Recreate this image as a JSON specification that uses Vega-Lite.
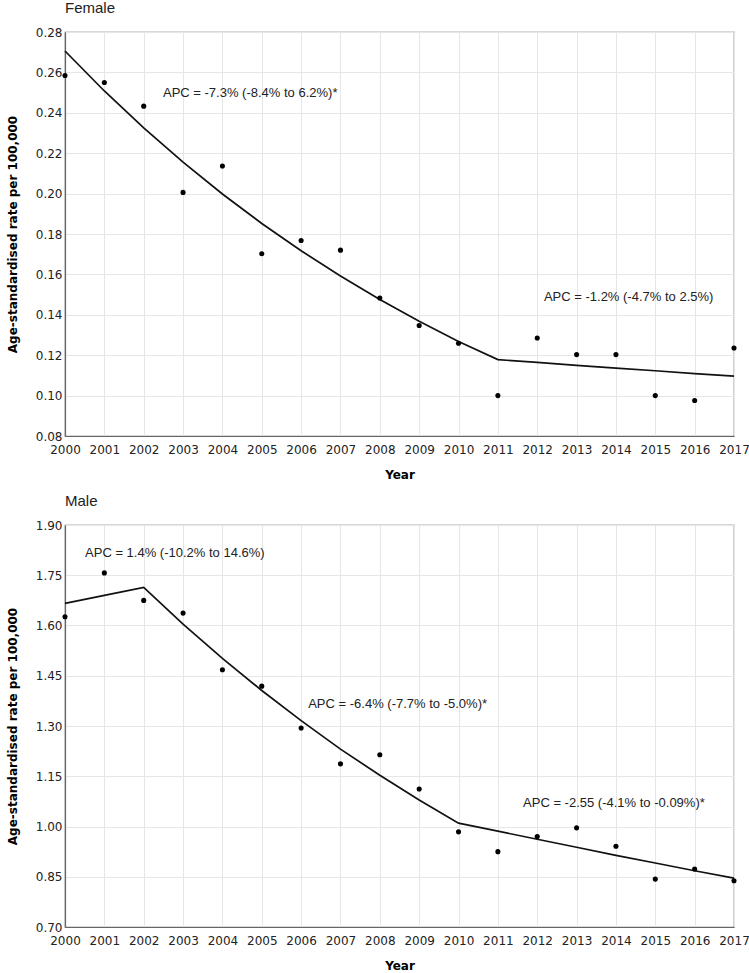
{
  "$schema": "https://vega.github.io/schema/vega-lite/v6.json",
  "padding": {"left": 5, "top": 0, "right": 5, "bottom": 0},
  "spacing": 12,
  "datasets": {
    "female_obs": [
      {"year": 2000, "rate": 0.2585}, {"year": 2001, "rate": 0.2550}, {"year": 2002, "rate": 0.2433},
      {"year": 2003, "rate": 0.2006}, {"year": 2004, "rate": 0.2137}, {"year": 2005, "rate": 0.1702},
      {"year": 2006, "rate": 0.1768}, {"year": 2007, "rate": 0.1720}, {"year": 2008, "rate": 0.1483},
      {"year": 2009, "rate": 0.1347}, {"year": 2010, "rate": 0.1259}, {"year": 2011, "rate": 0.1000},
      {"year": 2012, "rate": 0.1285}, {"year": 2013, "rate": 0.1203}, {"year": 2014, "rate": 0.1203},
      {"year": 2015, "rate": 0.1000}, {"year": 2016, "rate": 0.0976}, {"year": 2017, "rate": 0.1236}
    ],
    "female_fit": [
      {"year": 2000, "rate": 0.2706}, {"year": 2001, "rate": 0.2508}, {"year": 2002, "rate": 0.2325},
      {"year": 2003, "rate": 0.2156}, {"year": 2004, "rate": 0.1998}, {"year": 2005, "rate": 0.1852},
      {"year": 2006, "rate": 0.1717}, {"year": 2007, "rate": 0.1592}, {"year": 2008, "rate": 0.1476},
      {"year": 2009, "rate": 0.1368}, {"year": 2010, "rate": 0.1268}, {"year": 2011, "rate": 0.1178},
      {"year": 2012, "rate": 0.1164}, {"year": 2013, "rate": 0.1150}, {"year": 2014, "rate": 0.1136},
      {"year": 2015, "rate": 0.1123}, {"year": 2016, "rate": 0.1109}, {"year": 2017, "rate": 0.1096}
    ],
    "female_notes": [
      {"year": 2002.49, "rate": 0.2499, "label": "APC = -7.3% (-8.4% to 6.2%)*"},
      {"year": 2012.17, "rate": 0.1490, "label": "APC = -1.2% (-4.7% to 2.5%)"}
    ],
    "male_obs": [
      {"year": 2000, "rate": 1.626}, {"year": 2001, "rate": 1.757}, {"year": 2002, "rate": 1.675},
      {"year": 2003, "rate": 1.637}, {"year": 2004, "rate": 1.468}, {"year": 2005, "rate": 1.419},
      {"year": 2006, "rate": 1.294}, {"year": 2007, "rate": 1.187}, {"year": 2008, "rate": 1.214},
      {"year": 2009, "rate": 1.112}, {"year": 2010, "rate": 0.984}, {"year": 2011, "rate": 0.925},
      {"year": 2012, "rate": 0.970}, {"year": 2013, "rate": 0.996}, {"year": 2014, "rate": 0.941},
      {"year": 2015, "rate": 0.843}, {"year": 2016, "rate": 0.873}, {"year": 2017, "rate": 0.838}
    ],
    "male_fit": [
      {"year": 2000, "rate": 1.666}, {"year": 2001, "rate": 1.690}, {"year": 2002, "rate": 1.714},
      {"year": 2003, "rate": 1.604}, {"year": 2004, "rate": 1.502}, {"year": 2005, "rate": 1.406},
      {"year": 2006, "rate": 1.316}, {"year": 2007, "rate": 1.231}, {"year": 2008, "rate": 1.153},
      {"year": 2009, "rate": 1.079}, {"year": 2010, "rate": 1.010}, {"year": 2011, "rate": 0.986},
      {"year": 2012, "rate": 0.962}, {"year": 2013, "rate": 0.938}, {"year": 2014, "rate": 0.914},
      {"year": 2015, "rate": 0.891}, {"year": 2016, "rate": 0.868}, {"year": 2017, "rate": 0.846}
    ],
    "male_notes": [
      {"year": 2000.51, "rate": 1.816, "label": "APC = 1.4% (-10.2% to 14.6%)"},
      {"year": 2006.18, "rate": 1.367, "label": "APC = -6.4% (-7.7% to -5.0%)*"},
      {"year": 2011.64, "rate": 1.070, "label": "APC = -2.55 (-4.1% to -0.09%)*"}
    ]
  },
  "vconcat": [
    {
      "title": {"text": "Female"},
      "width": 669,
      "height": 404,
      "encoding": {
        "x": {"field": "year", "type": "quantitative", "scale": {"domain": [2000, 2017], "nice": false, "zero": false},
              "axis": {"title": "Year", "values": [2000,2001,2002,2003,2004,2005,2006,2007,2008,2009,2010,2011,2012,2013,2014,2015,2016,2017], "format": "d", "labelOverlap": false, "labelFlush": false, "labelSeparation": 0, "labelBound": false, "labelFont": "DejaVu Sans", "labelFontSize": 12}},
        "y": {"field": "rate", "type": "quantitative", "scale": {"domain": [0.08, 0.28], "nice": false, "zero": false},
              "axis": {"title": "Age-standardised rate per 100,000", "values": [0.08,0.10,0.12,0.14,0.16,0.18,0.20,0.22,0.24,0.26,0.28], "format": ".2f", "labelOverlap": false, "labelFlush": false, "labelFont": "DejaVu Sans", "labelFontSize": 12}}
      },
      "layer": [
        {
          "data": {"name": "female_fit"},
          "mark": {"type": "line", "color": "#111", "strokeWidth": 1.7}
        },
        {
          "data": {"name": "female_obs"},
          "mark": {"type": "circle", "color": "#000", "size": 26, "opacity": 1}
        },
        {
          "data": {"name": "female_notes"},
          "mark": {"type": "text", "align": "left", "baseline": "middle", "font": "Liberation Sans", "fontSize": 13, "color": "#222"},
          "encoding": {"text": {"field": "label"}}
        }
      ]
    },
    {
      "title": {"text": "Male"},
      "width": 669,
      "height": 402,
      "encoding": {
        "x": {"field": "year", "type": "quantitative", "scale": {"domain": [2000, 2017], "nice": false, "zero": false},
              "axis": {"title": "Year", "values": [2000,2001,2002,2003,2004,2005,2006,2007,2008,2009,2010,2011,2012,2013,2014,2015,2016,2017], "format": "d", "labelOverlap": false, "labelFlush": false, "labelSeparation": 0, "labelBound": false, "labelFont": "DejaVu Sans", "labelFontSize": 12}},
        "y": {"field": "rate", "type": "quantitative", "scale": {"domain": [0.70, 1.90], "nice": false, "zero": false},
              "axis": {"title": "Age-standardised rate per 100,000", "values": [0.70,0.85,1.00,1.15,1.30,1.45,1.60,1.75,1.90], "format": ".2f", "labelOverlap": false, "labelFlush": false, "labelFont": "DejaVu Sans", "labelFontSize": 12}}
      },
      "layer": [
        {
          "data": {"name": "male_fit"},
          "mark": {"type": "line", "color": "#111", "strokeWidth": 1.7}
        },
        {
          "data": {"name": "male_obs"},
          "mark": {"type": "circle", "color": "#000", "size": 26, "opacity": 1}
        },
        {
          "data": {"name": "male_notes"},
          "mark": {"type": "text", "align": "left", "baseline": "middle", "font": "Liberation Sans", "fontSize": 13, "color": "#222"},
          "encoding": {"text": {"field": "label"}}
        }
      ]
    }
  ],
  "config": {
    "view": {"stroke": "#666", "strokeWidth": 1.2},
    "title": {"font": "Liberation Sans", "fontSize": 15, "fontWeight": "normal", "color": "#222", "anchor": "start", "offset": 10, "frame": "group"},
    "axis": {
      "labelFont": "DejaVu Sans", "labelFontSize": 12, "labelColor": "#222",
      "titleFont": "DejaVu Sans", "titleFontSize": 12, "titleFontWeight": "bold", "titleColor": "#000",
      "gridColor": "#e6e6e6", "gridWidth": 1, "domainColor": "#666", "domainWidth": 1.2,
      "ticks": false
    },
    "axisX": {"labelPadding": 8, "titlePadding": 14},
    "axisY": {"labelPadding": 3, "titlePadding": 16}
  }
}
